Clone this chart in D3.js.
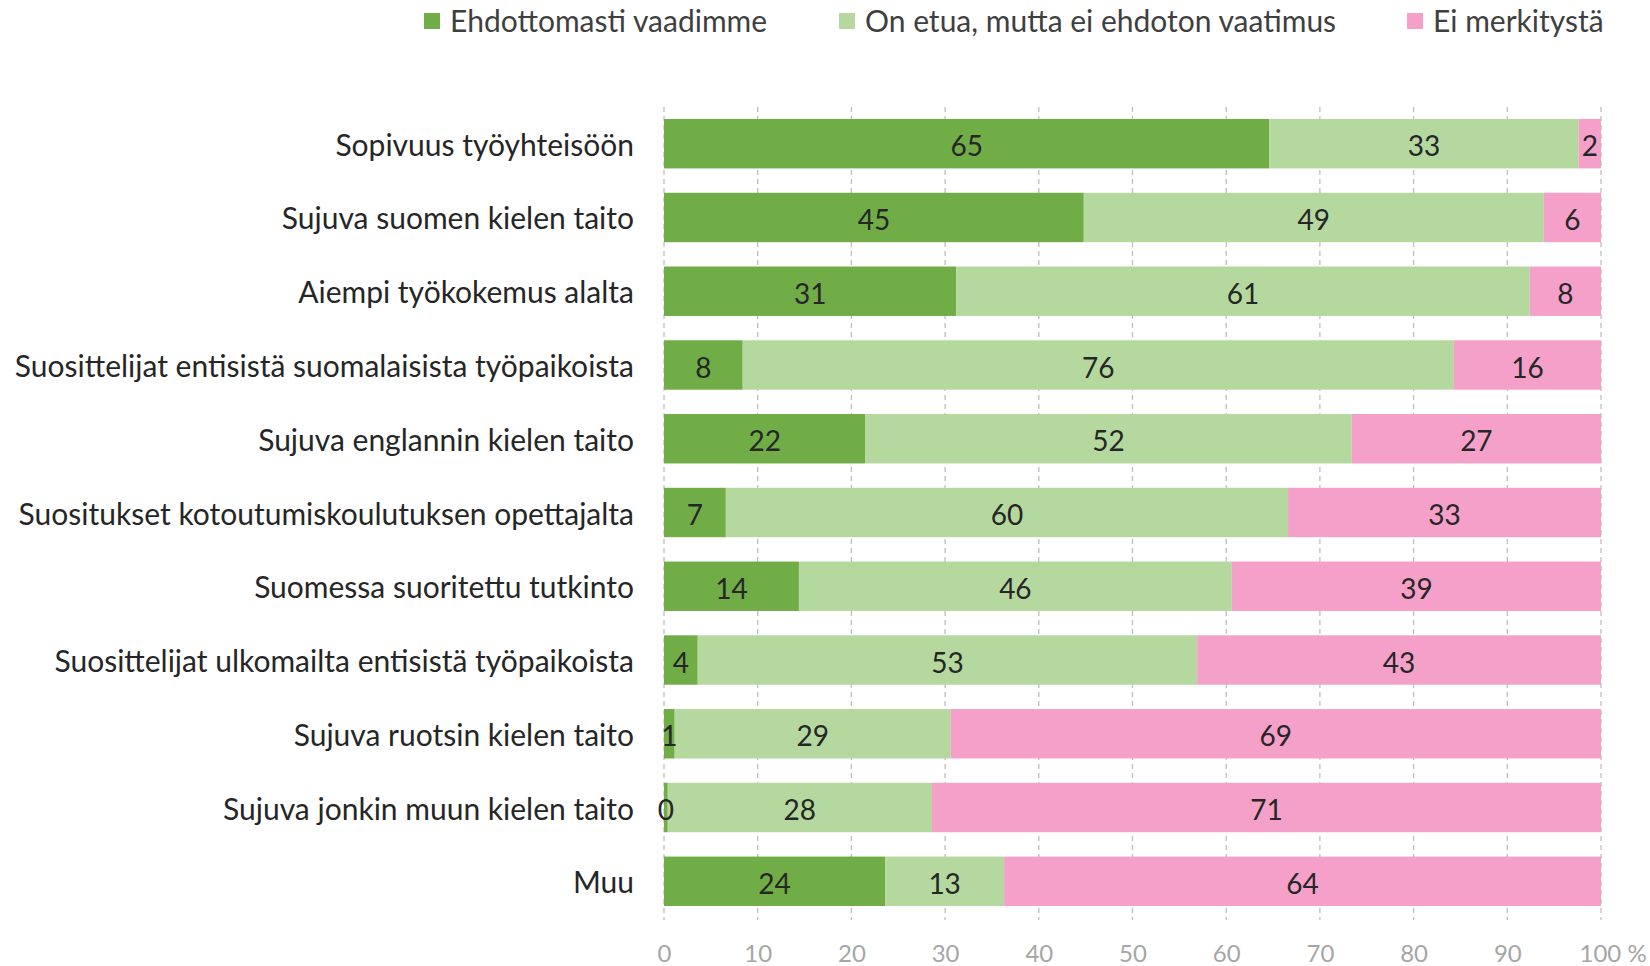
<!DOCTYPE html>
<html>
<head>
<meta charset="utf-8">
<script src="https://cdn.jsdelivr.net/npm/d3@7"></script>
<style>
  html, body { margin: 0; padding: 0; background: #ffffff; }
  svg { display: block; }
</style>
</head>
<body>
<svg id="chart" width="1650" height="966"></svg>
<script>
const categories = [
  "Sopivuus työyhteisöön",
  "Sujuva suomen kielen taito",
  "Aiempi työkokemus alalta",
  "Suosittelijat entisistä suomalaisista työpaikoista",
  "Sujuva englannin kielen taito",
  "Suositukset kotoutumiskoulutuksen opettajalta",
  "Suomessa suoritettu tutkinto",
  "Suosittelijat ulkomailta entisistä työpaikoista",
  "Sujuva ruotsin kielen taito",
  "Sujuva jonkin muun kielen taito",
  "Muu"
];
const seriesNames = ["Ehdottomasti vaadimme", "On etua, mutta ei ehdoton vaatimus", "Ei merkitystä"];
const ehdottomasti = [64.6, 44.8, 31.2, 8.4, 21.5, 6.6, 14.4, 3.6, 1.14, 0.4, 23.6];
const onEtua =       [33.0, 49.1, 61.2, 75.9, 51.9, 60.0, 46.2, 53.3, 29.45, 28.2, 12.7];
const eiMerkitysta = [2.4, 6.1, 7.6, 15.7, 26.6, 33.4, 39.4, 43.1, 69.41, 71.4, 63.7];
const xTicks = [0, 10, 20, 30, 40, 50, 60, 70, 80, 90, 100];
const xTickLabels = ["0", "10", "20", "30", "40", "50", "60", "70", "80", "90", "100 %"];
const colors = ["#70ad47", "#b5d89f", "#f4a0c8"];

(function () {
const svg = d3.select("#chart");
const FONT = "Lato, 'Open Sans', sans-serif";
const mLeft = 664, mRight = 1601, mTop = 105, mBottom = 920;

const x = d3.scaleLinear().domain([0, 100]).range([mLeft, mRight]);
const y = d3.scaleBand().domain(categories).range([mTop, mBottom]).paddingInner(0.33).paddingOuter(0.19);

// grid lines
svg.append("g").selectAll("line").data(xTicks).join("line")
  .attr("x1", d => x(d)).attr("x2", d => x(d))
  .attr("y1", 107).attr("y2", 920)
  .attr("stroke", "#bfbfbf").attr("stroke-width", 1.3)
  .attr("stroke-dasharray", "5,4");

// stacked data
const rows = categories.map((c, i) => ({ cat: c, s0: ehdottomasti[i], s1: onEtua[i], s2: eiMerkitysta[i] }));
const stack = d3.stack().keys(["s0", "s1", "s2"]);
const stacked = stack(rows);

const fmt = d3.format(".0f");
const layers = svg.append("g").selectAll("g").data(stacked).join("g")
  .attr("fill", (d, i) => colors[i]);

layers.selectAll("rect").data(d => d).join("rect")
  .attr("x", d => x(d[0]))
  .attr("width", d => x(d[1]) - x(d[0]))
  .attr("y", d => y(d.data.cat))
  .attr("height", y.bandwidth());

const labelG = svg.append("g");
stacked.forEach(layer => {
  labelG.append("g").selectAll("text").data(layer).join("text")
    .attr("x", d => (x(d[0]) + x(d[1])) / 2)
    .attr("y", d => y(d.data.cat) + y.bandwidth() / 2)
    .attr("dy", "0.45em")
    .attr("text-anchor", "middle")
    .attr("font-family", FONT)
    .attr("font-size", 28)
    .attr("fill", "#262626")
    .text(d => fmt(d[1] - d[0]));
});

// y axis labels
const yAxis = d3.axisLeft(y).tickSize(0).tickPadding(0);
const yg = svg.append("g").attr("transform", `translate(${mLeft - 30},0)`).call(yAxis);
yg.select(".domain").remove();
yg.selectAll("text").attr("font-family", FONT).attr("font-size", 30).attr("fill", "#262626").attr("dy", "0.4em");

// x axis
const xAxis = d3.axisBottom(x).tickValues(xTicks).tickSize(0).tickPadding(0).tickFormat((d, i) => xTickLabels[i]);
const xg = svg.append("g").attr("transform", `translate(0,953)`).call(xAxis);
xg.select(".domain").remove();
xg.selectAll("text").attr("font-family", FONT).attr("font-size", 24).attr("fill", "#a6a6a6").attr("dy", "0.36em");
xg.selectAll(".tick").filter(d => d === 100).select("text").attr("text-anchor", "start").attr("dx", -22);

// legend
const legendX = [424, 839, 1407];
const lg = svg.append("g").selectAll("g").data(seriesNames).join("g")
  .attr("transform", (d, i) => `translate(${legendX[i]},21)`);
lg.append("rect").attr("x", 0).attr("y", -8).attr("width", 16).attr("height", 16).attr("fill", (d, i) => colors[i]);
lg.append("text").attr("x", 26).attr("dy", "0.38em").attr("font-family", FONT).attr("font-size", 30)
  .attr("fill", "#3f3f3f").text(d => d);
})();
</script>
</body>
</html>
